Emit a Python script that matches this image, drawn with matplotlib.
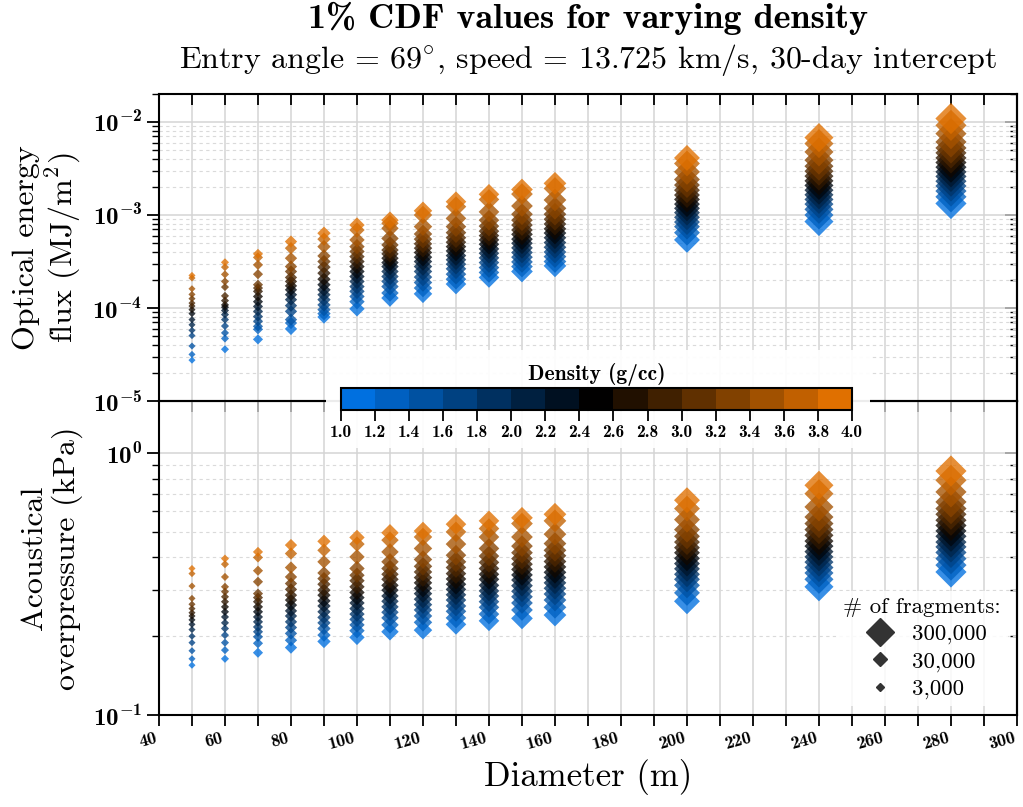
import numpy as np
import matplotlib
matplotlib.use('Agg')
import matplotlib.pyplot as plt
from matplotlib.colors import LinearSegmentedColormap, ListedColormap, BoundaryNorm, Normalize
from matplotlib.cm import ScalarMappable
from matplotlib.lines import Line2D
from matplotlib.ticker import LogLocator, NullFormatter

plt.rcParams['font.family'] = 'cmr10'
plt.rcParams['mathtext.fontset'] = 'custom'
plt.rcParams['mathtext.rm'] = 'cmr10'
plt.rcParams['mathtext.it'] = 'cmmi10'
plt.rcParams['mathtext.bf'] = 'cmb10'
plt.rcParams['mathtext.cal'] = 'cmsy10'
plt.rcParams['mathtext.sf'] = 'cmss10'
plt.rcParams['mathtext.tt'] = 'cmtt10'
plt.rcParams['mathtext.fallback'] = 'cm'
plt.rcParams['axes.formatter.use_mathtext'] = True
plt.rcParams['axes.unicode_minus'] = False

# ---- data ----
diameters = [50, 60, 70, 80, 90, 100, 110, 120, 130, 140, 150, 160, 200, 240, 280]
densities = [1.0, 1.2, 1.4, 1.6, 1.8, 2.0, 2.2, 2.4, 2.6, 2.8, 3.0, 3.2, 3.4, 3.6, 3.8, 4.0]
fragments = [3000, 4700, 10000, 19000, 25000, 40000, 61000, 74000,
             106000, 106000, 126000, 147000, 227000, 333000, 420000]
legend_fragments = [300000, 30000, 3000]

# optical energy flux (MJ/m^2), one list per diameter, density 1.0 -> 4.0
flux_d50 = [2.75e-5, 3.17e-5, 3.9e-5, 5.05e-5, 5.75e-5, 6.6e-5, 7.5e-5, 8.7e-5, 9.6e-5, 1.05e-4, 1.13e-4, 1.26e-4, 1.4e-4, 1.61e-4, 2.1e-4, 2.24e-4]
flux_d60 = [3.6e-5, 4.7e-5, 5.4e-5, 6.4e-5, 7.5e-5, 8.5e-5, 9.4e-5, 1.02e-4, 1.08e-4, 1.2e-4, 1.35e-4, 1.68e-4, 1.93e-4, 2.3e-4, 2.75e-4, 3.1e-4]
flux_d70 = [4.6e-5, 5.9e-5, 6.35e-5, 7.2e-5, 8.1e-5, 9.2e-5, 1.04e-4, 1.17e-4, 1.33e-4, 1.51e-4, 1.64e-4, 1.78e-4, 2.31e-4, 2.91e-4, 3.5e-4, 3.82e-4]
flux_d80 = [5.96e-5, 6.9e-5, 7.5e-5, 9.2e-5, 1.06e-4, 1.23e-4, 1.39e-4, 1.57e-4, 1.73e-4, 1.93e-4, 2.13e-4, 2.47e-4, 2.79e-4, 3.43e-4, 4.4e-4, 5.18e-4]
flux_d90 = [8.0e-5, 8.7e-5, 9.6e-5, 1.08e-4, 1.23e-4, 1.39e-4, 1.57e-4, 1.78e-4, 2.04e-4, 2.37e-4, 2.75e-4, 3.16e-4, 3.63e-4, 4.57e-4, 5.5e-4, 6.37e-4]
flux_d100 = [9.8e-5, 1.17e-4, 1.33e-4, 1.51e-4, 1.7e-4, 1.93e-4, 2.18e-4, 2.47e-4, 2.79e-4, 3.16e-4, 3.57e-4, 4.05e-4, 4.57e-4, 5.4e-4, 6.9e-4, 7.8e-4]
flux_d110 = [1.28e-4, 1.45e-4, 1.7e-4, 1.93e-4, 2.18e-4, 2.47e-4, 2.79e-4, 3.08e-4, 3.43e-4, 3.82e-4, 4.2e-4, 4.77e-4, 5.6e-4, 7.2e-4, 8.15e-4, 8.8e-4]
flux_d120 = [1.42e-4, 1.64e-4, 1.88e-4, 2.15e-4, 2.47e-4, 2.79e-4, 3.16e-4, 3.52e-4, 3.95e-4, 4.4e-4, 4.9e-4, 5.5e-4, 6.25e-4, 7.5e-4, 1.0e-3, 1.11e-3]
flux_d130 = [1.81e-4, 2.04e-4, 2.31e-4, 2.64e-4, 2.96e-4, 3.3e-4, 3.66e-4, 4.11e-4, 4.57e-4, 5.1e-4, 5.7e-4, 6.46e-4, 7.5e-4, 9.2e-4, 1.23e-3, 1.39e-3]
flux_d140 = [2.13e-4, 2.41e-4, 2.72e-4, 3.08e-4, 3.46e-4, 3.88e-4, 4.32e-4, 4.85e-4, 5.4e-4, 6.0e-4, 6.7e-4, 7.6e-4, 8.8e-4, 1.08e-3, 1.47e-3, 1.67e-3]
flux_d150 = [2.47e-4, 2.79e-4, 3.13e-4, 3.52e-4, 3.95e-4, 4.43e-4, 4.97e-4, 5.5e-4, 6.2e-4, 6.9e-4, 7.8e-4, 8.8e-4, 1.02e-3, 1.25e-3, 1.68e-3, 1.88e-3]
flux_d160 = [2.84e-4, 3.16e-4, 3.57e-4, 4.0e-4, 4.5e-4, 5.05e-4, 5.7e-4, 6.4e-4, 7.1e-4, 8.0e-4, 9.0e-4, 1.02e-3, 1.18e-3, 1.45e-3, 1.93e-3, 2.19e-3]
flux_d200 = [5.4e-4, 6.46e-4, 7.5e-4, 8.4e-4, 9.45e-4, 1.06e-3, 1.18e-3, 1.31e-3, 1.47e-3, 1.64e-3, 1.85e-3, 2.1e-3, 2.41e-3, 2.91e-3, 3.58e-3, 4.11e-3]
flux_d240 = [8.5e-4, 1.0e-3, 1.15e-3, 1.31e-3, 1.47e-3, 1.65e-3, 1.85e-3, 2.08e-3, 2.33e-3, 2.62e-3, 2.96e-3, 3.35e-3, 3.89e-3, 4.77e-3, 5.86e-3, 6.8e-3]
flux_d280 = [1.33e-3, 1.57e-3, 1.81e-3, 2.05e-3, 2.31e-3, 2.6e-3, 2.91e-3, 3.27e-3, 3.67e-3, 4.11e-3, 4.66e-3, 5.26e-3, 6.1e-3, 7.5e-3, 9.2e-3, 1.09e-2]

# acoustical overpressure (kPa), one list per diameter, density 1.0 -> 4.0
op_d50 = [0.155, 0.164, 0.176, 0.189, 0.2, 0.212, 0.222, 0.231, 0.239, 0.246, 0.255, 0.265, 0.279, 0.311, 0.347, 0.363]
op_d60 = [0.164, 0.177, 0.189, 0.202, 0.214, 0.225, 0.237, 0.248, 0.259, 0.271, 0.283, 0.296, 0.309, 0.337, 0.377, 0.396]
op_d70 = [0.173, 0.188, 0.199, 0.208, 0.217, 0.227, 0.237, 0.248, 0.259, 0.271, 0.281, 0.291, 0.323, 0.356, 0.4, 0.42]
op_d80 = [0.181, 0.193, 0.205, 0.216, 0.227, 0.239, 0.25, 0.263, 0.275, 0.287, 0.302, 0.318, 0.337, 0.366, 0.414, 0.446]
op_d90 = [0.191, 0.202, 0.214, 0.225, 0.236, 0.248, 0.261, 0.273, 0.287, 0.3, 0.316, 0.332, 0.349, 0.385, 0.426, 0.461]
op_d100 = [0.198, 0.21, 0.221, 0.232, 0.243, 0.255, 0.268, 0.281, 0.294, 0.309, 0.326, 0.342, 0.363, 0.402, 0.45, 0.477]
op_d110 = [0.208, 0.221, 0.235, 0.247, 0.259, 0.272, 0.285, 0.3, 0.313, 0.33, 0.345, 0.363, 0.385, 0.42, 0.466, 0.497]
op_d120 = [0.211, 0.226, 0.239, 0.252, 0.264, 0.277, 0.291, 0.305, 0.32, 0.335, 0.352, 0.37, 0.393, 0.433, 0.479, 0.505]
op_d130 = [0.222, 0.235, 0.249, 0.261, 0.275, 0.288, 0.302, 0.316, 0.331, 0.347, 0.366, 0.385, 0.408, 0.45, 0.501, 0.536]
op_d140 = [0.229, 0.243, 0.258, 0.271, 0.285, 0.298, 0.313, 0.33, 0.345, 0.363, 0.383, 0.405, 0.433, 0.479, 0.516, 0.552]
op_d150 = [0.234, 0.252, 0.268, 0.283, 0.297, 0.312, 0.328, 0.343, 0.36, 0.377, 0.396, 0.417, 0.442, 0.479, 0.539, 0.567]
op_d160 = [0.241, 0.258, 0.275, 0.29, 0.305, 0.32, 0.335, 0.351, 0.368, 0.386, 0.406, 0.426, 0.452, 0.491, 0.552, 0.585]
op_d200 = [0.272, 0.293, 0.313, 0.33, 0.345, 0.362, 0.379, 0.397, 0.417, 0.436, 0.458, 0.482, 0.511, 0.558, 0.615, 0.662]
op_d240 = [0.309, 0.33, 0.349, 0.366, 0.384, 0.402, 0.421, 0.442, 0.462, 0.486, 0.511, 0.539, 0.571, 0.624, 0.701, 0.755]
op_d280 = [0.352, 0.374, 0.396, 0.418, 0.439, 0.458, 0.482, 0.505, 0.53, 0.555, 0.585, 0.615, 0.652, 0.712, 0.789, 0.856]

optical_flux = [flux_d50, flux_d60, flux_d70, flux_d80, flux_d90, flux_d100, flux_d110, flux_d120,
                flux_d130, flux_d140, flux_d150, flux_d160, flux_d200, flux_d240, flux_d280]
overpressure = [op_d50, op_d60, op_d70, op_d80, op_d90, op_d100, op_d110, op_d120,
                op_d130, op_d140, op_d150, op_d160, op_d200, op_d240, op_d280]

BOLD = 'cmb10'
blue = (0.0, 0.44, 0.88)
orange = (0.88, 0.44, 0.0)
cmap = LinearSegmentedColormap.from_list('density', [blue, 'black', orange])
nbins = len(densities) - 1
bin_colors = [cmap(i / (nbins - 1)) for i in range(nbins)]


def marker_area(n):
    # diamond area grows with fragment count
    return 13.0 * (n / 3000.0) ** 0.6


fig = plt.figure(figsize=(10.23, 8.07), dpi=100)
ax1 = fig.add_axes([0.1554, 0.5031, 0.8387, 0.3804])
ax2 = fig.add_axes([0.1554, 0.1140, 0.8387, 0.3891])

panels = [(ax1, optical_flux, (1e-5, 2e-2), [-5, -4, -3, -2]),
          (ax2, overpressure, (0.1, 10 ** 0.2), [-1, 0])]
for ax, table, ylim, decades in panels:
    for k, d in enumerate(diameters):
        ax.scatter([d] * len(densities), table[k], c=densities, cmap=cmap, norm=Normalize(1.0, 4.0),
                   s=marker_area(fragments[k]), marker='D', alpha=0.78, linewidths=0, zorder=3)
    ax.set_yscale('log')
    ax.set_xlim(40, 300)
    ax.set_ylim(*ylim)
    ax.set_xticks(np.arange(40, 301, 10))
    ax.set_yticks([10.0 ** e for e in decades])
    ax.set_yticklabels([r'$\mathbf{10^{%d}}$' % e for e in decades], fontsize=18)
    ax.yaxis.set_minor_locator(LogLocator(base=10, subs=np.arange(2, 10)))
    ax.yaxis.set_minor_formatter(NullFormatter())
    ax.grid(which='major', color='#d4d4d4', lw=1.1)
    ax.grid(which='minor', axis='y', color='#dadada', ls=(0, (3, 3)), lw=0.8)
    ax.set_axisbelow(True)
    for s in ax.spines.values():
        s.set_linewidth(1.5)
    ax.tick_params(axis='y', which='major', direction='out', length=9, width=1.3, pad=3)
    ax.tick_params(axis='y', which='minor', direction='out', length=5, width=1.0)
    sec = ax.secondary_yaxis('right')
    sec.tick_params(axis='y', which='major', direction='in', length=9, width=1.3, labelright=False)
    sec.tick_params(axis='y', which='minor', direction='in', length=5, width=1.0, labelright=False)
    sec.spines['right'].set_linewidth(1.5)

# top panel: ticks on the top edge only
ax1.tick_params(axis='x', which='both', bottom=False, top=True, labelbottom=False,
                direction='in', length=8, width=1.3)

# bottom panel
ax2.set_xticklabels([str(v) if v % 20 == 0 else '' for v in range(40, 301, 10)],
                    fontfamily=BOLD, fontsize=13, rotation=15, ha='right')
ax2.tick_params(axis='x', which='major', direction='out', length=8, width=1.3, pad=3)
secx = ax2.secondary_xaxis('top')
secx.set_xticks(np.arange(40, 301, 10))
secx.tick_params(axis='x', direction='in', length=8, width=1.3, labeltop=False)

ax1.set_ylabel('Optical energy\nflux (MJ/m$^2$)', fontsize=23, linespacing=1.15)
ax1.yaxis.set_label_coords(-0.088, 0.5)
ax2.set_ylabel('Acoustical\noverpressure (kPa)', fontsize=23, linespacing=1.15)
ax2.yaxis.set_label_coords(-0.088, 0.5)
ax2.set_xlabel('Diameter (m)', fontsize=25)
ax2.xaxis.set_label_coords(0.5, -0.14)

handles = [Line2D([], [], ls='none', marker='D', color='0.2', markersize=np.sqrt(marker_area(n)))
           for n in legend_fragments]
leg = ax2.legend(handles, [f'{n:,}' for n in legend_fragments], title='# of fragments:',
                 loc='lower right', fontsize=16.5, title_fontsize=16.5, frameon=True,
                 facecolor='white', edgecolor='none', framealpha=0.85, labelspacing=0.3,
                 handletextpad=0.4, borderpad=0.3, borderaxespad=0.4)
leg.set_zorder(5)

# colorbar with white backing box
bg = fig.add_axes([0.3187, 0.4449, 0.5317, 0.1214])
bg.set_xticks([])
bg.set_yticks([])
bg.patch.set_alpha(0.93)
for s in bg.spines.values():
    s.set_visible(False)

cax = fig.add_axes([0.3333, 0.4919, 0.4995, 0.0273])
sm = ScalarMappable(norm=BoundaryNorm(densities, nbins), cmap=ListedColormap(bin_colors))
cb = fig.colorbar(sm, cax=cax, orientation='horizontal', ticks=densities)
cb.outline.set_linewidth(1.5)
cax.tick_params(axis='x', which='major', direction='out', length=8, width=1.3, pad=3)
cax.minorticks_off()
cax.set_xticklabels([f'{v:.1f}' for v in densities], fontfamily=BOLD, fontsize=12.5)
cax.set_title('Density (g/cc)', fontfamily=BOLD, fontsize=15.5, pad=6)

fig.text(0.5748, 0.9777, '1% CDF values for varying density', ha='center', va='center',
         fontfamily=BOLD, fontsize=26)
fig.text(0.5748, 0.9257, r'Entry angle = 69$^{\circ}$, speed = 13.725 km/s, 30-day intercept',
         ha='center', va='center', fontsize=23)

fig.savefig('out.png', dpi=100)
